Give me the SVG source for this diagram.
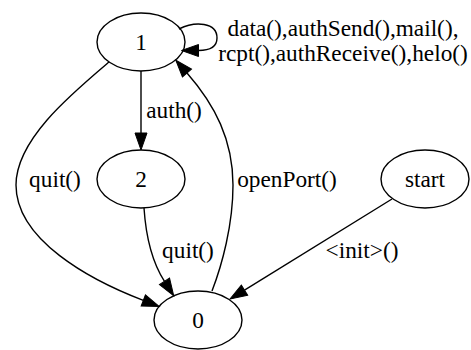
<svg xmlns="http://www.w3.org/2000/svg" width="471" height="350" viewBox="0 0 471 350">
<style>
  .node ellipse { fill: none; stroke: #000; stroke-width: 1.4; }
  .lbl { font-family: "Liberation Serif", "Times New Roman", serif; font-size: 23.3px; fill: #000; text-anchor: middle; }
  .edge { fill: none; stroke: #000; stroke-width: 1.4; marker-end: url(#arr); }
</style>
<defs>
  <marker id="arr" markerUnits="userSpaceOnUse" markerWidth="18" markerHeight="13" refX="0" refY="6" orient="auto" overflow="visible">
    <path d="M0,0 L17,6 L0,12 Z" fill="#000" stroke="#000" stroke-width="1"/>
  </marker>
</defs>
<g id="connectors">
  <path class="edge" d="M179,29 C195,21 217,22 217,38 C217,47 209,50.5 198.5,50.5"/>
  <text class="lbl" x="343" y="36">data(),authSend(),mail(),</text>
  <text class="lbl" x="343" y="61">rcpt(),authReceive(),helo()</text>
  <path class="edge" d="M141,71 L141,133"/>
  <text class="lbl" x="174" y="118">auth()</text>
  <path class="edge" d="M109,62 C70,95 16,140 16,185 C16,240 90,280 143.3,300.4"/>
  <text class="lbl" x="55" y="187">quit()</text>
  <path class="edge" d="M144,208 C146,238 152,262 164.5,281.4"/>
  <text class="lbl" x="188" y="258">quit()</text>
  <path class="edge" d="M212,291 C222,265 233,225 233,185 C233,140 215,105 187,73"/>
  <text class="lbl" x="287" y="187">openPort()</text>
  <path class="edge" d="M392,199 L244.5,290.1"/>
  <text class="lbl" x="362" y="258">&lt;init&gt;()</text>
</g>
<g id="node1" class="node">
  <ellipse cx="141" cy="42" rx="44" ry="29"/>
  <text class="lbl" x="141" y="50">1</text>
</g>
<g id="node2" class="node">
  <ellipse cx="141" cy="179" rx="44" ry="29"/>
  <text class="lbl" x="141" y="187">2</text>
</g>
<g id="node0" class="node">
  <ellipse cx="198" cy="320" rx="44" ry="29"/>
  <text class="lbl" x="198" y="328">0</text>
</g>
<g id="nodestart" class="node">
  <ellipse cx="425" cy="179" rx="44" ry="29"/>
  <text class="lbl" x="425" y="187">start</text>
</g>
</svg>
